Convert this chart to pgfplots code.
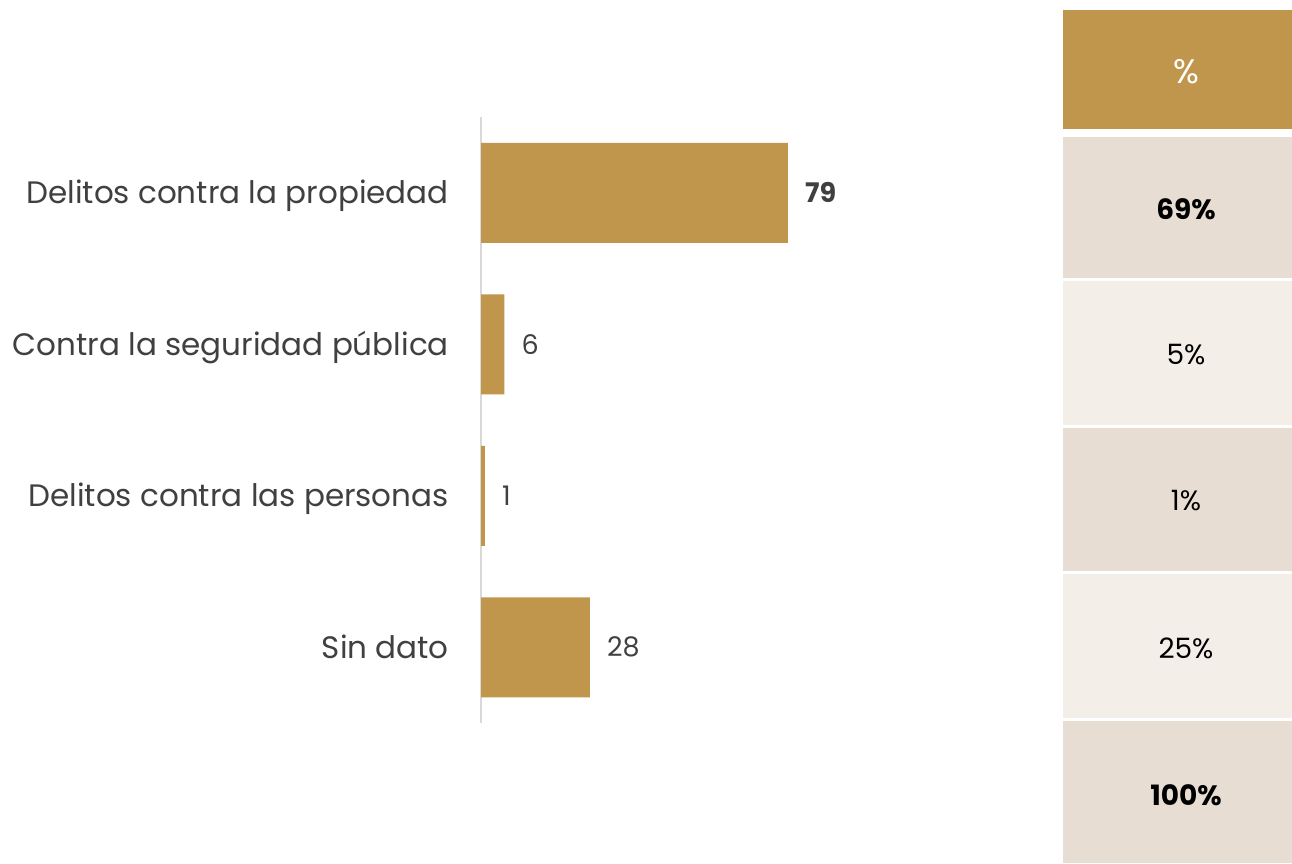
\documentclass[border=0pt]{standalone}
\usepackage{fontspec}
\setmainfont{Poppins}
\usepackage{pgfplots}
\pgfplotsset{compat=1.18}
\definecolor{gold}{HTML}{BF964C}
\definecolor{rowdark}{HTML}{E8DDD2}
\definecolor{rowlight}{HTML}{F3EEE8}
\definecolor{txt}{HTML}{404040}
\definecolor{axisgray}{HTML}{D9D9D9}
\begin{document}
\begin{tikzpicture}[x=1pt,y=1pt]
\useasboundingbox (0,0) rectangle (1292,863);
\fill[white] (0,0) rectangle (1292,863);
% table (Y = 863 - pixel row)
\fill[gold]     (1063,853) rectangle (1292,734);
\fill[rowdark]  (1063,726) rectangle (1292,585);
\fill[rowlight] (1063,582) rectangle (1292,438);
\fill[rowdark]  (1063,435) rectangle (1292,292);
\fill[rowlight] (1063,289) rectangle (1292,145);
\fill[rowdark]  (1063,142) rectangle (1292,0);
\begin{scope}[every node/.style={inner sep=0pt, font=\fontsize{28}{32}\selectfont}]
\node[white, font=\fontsize{34}{38}\selectfont] at (1186,791) {\%};
\node[black] at (1186,654) {\textbf{69\%}};
\node[black] at (1186,508) {5\%};
\node[black] at (1186,362) {1\%};
\node[black] at (1186,215) {25\%};
\node[black] at (1186,68) {\textbf{100\%}};
\end{scope}
\begin{axis}[
  at={(481pt,140pt)}, anchor=south west,
  scale only axis, width=544pt, height=606pt,
  xbar, bar width=100pt,
  xmin=0, xmax=140, ymin=-0.5, ymax=3.5, y dir=reverse,
  axis x line=none,
  axis y line*=left,
  y axis line style={draw=axisgray, line width=2pt},
  ytick={0,1,2,3}, major tick length=0pt,
  yticklabels={Delitos contra la propiedad, Contra la seguridad pública, Delitos contra las personas, Sin dato},
  yticklabel style={anchor=base east, inner sep=0pt, xshift=-32pt, yshift=-11pt, text=txt, font=\fontsize{31}{36}\selectfont},
  point meta=explicit symbolic,
  nodes near coords,
  nodes near coords style={anchor=west, inner sep=0pt, xshift=17pt, text=txt, font=\fontsize{27}{31}\selectfont},
]
\addplot[fill=gold, draw=none] coordinates {
  (79,0) [\textbf{79}]
  (6,1) [6]
  (1,2) [1]
  (28,3) [28]
};
\end{axis}
\end{tikzpicture}
\end{document}
